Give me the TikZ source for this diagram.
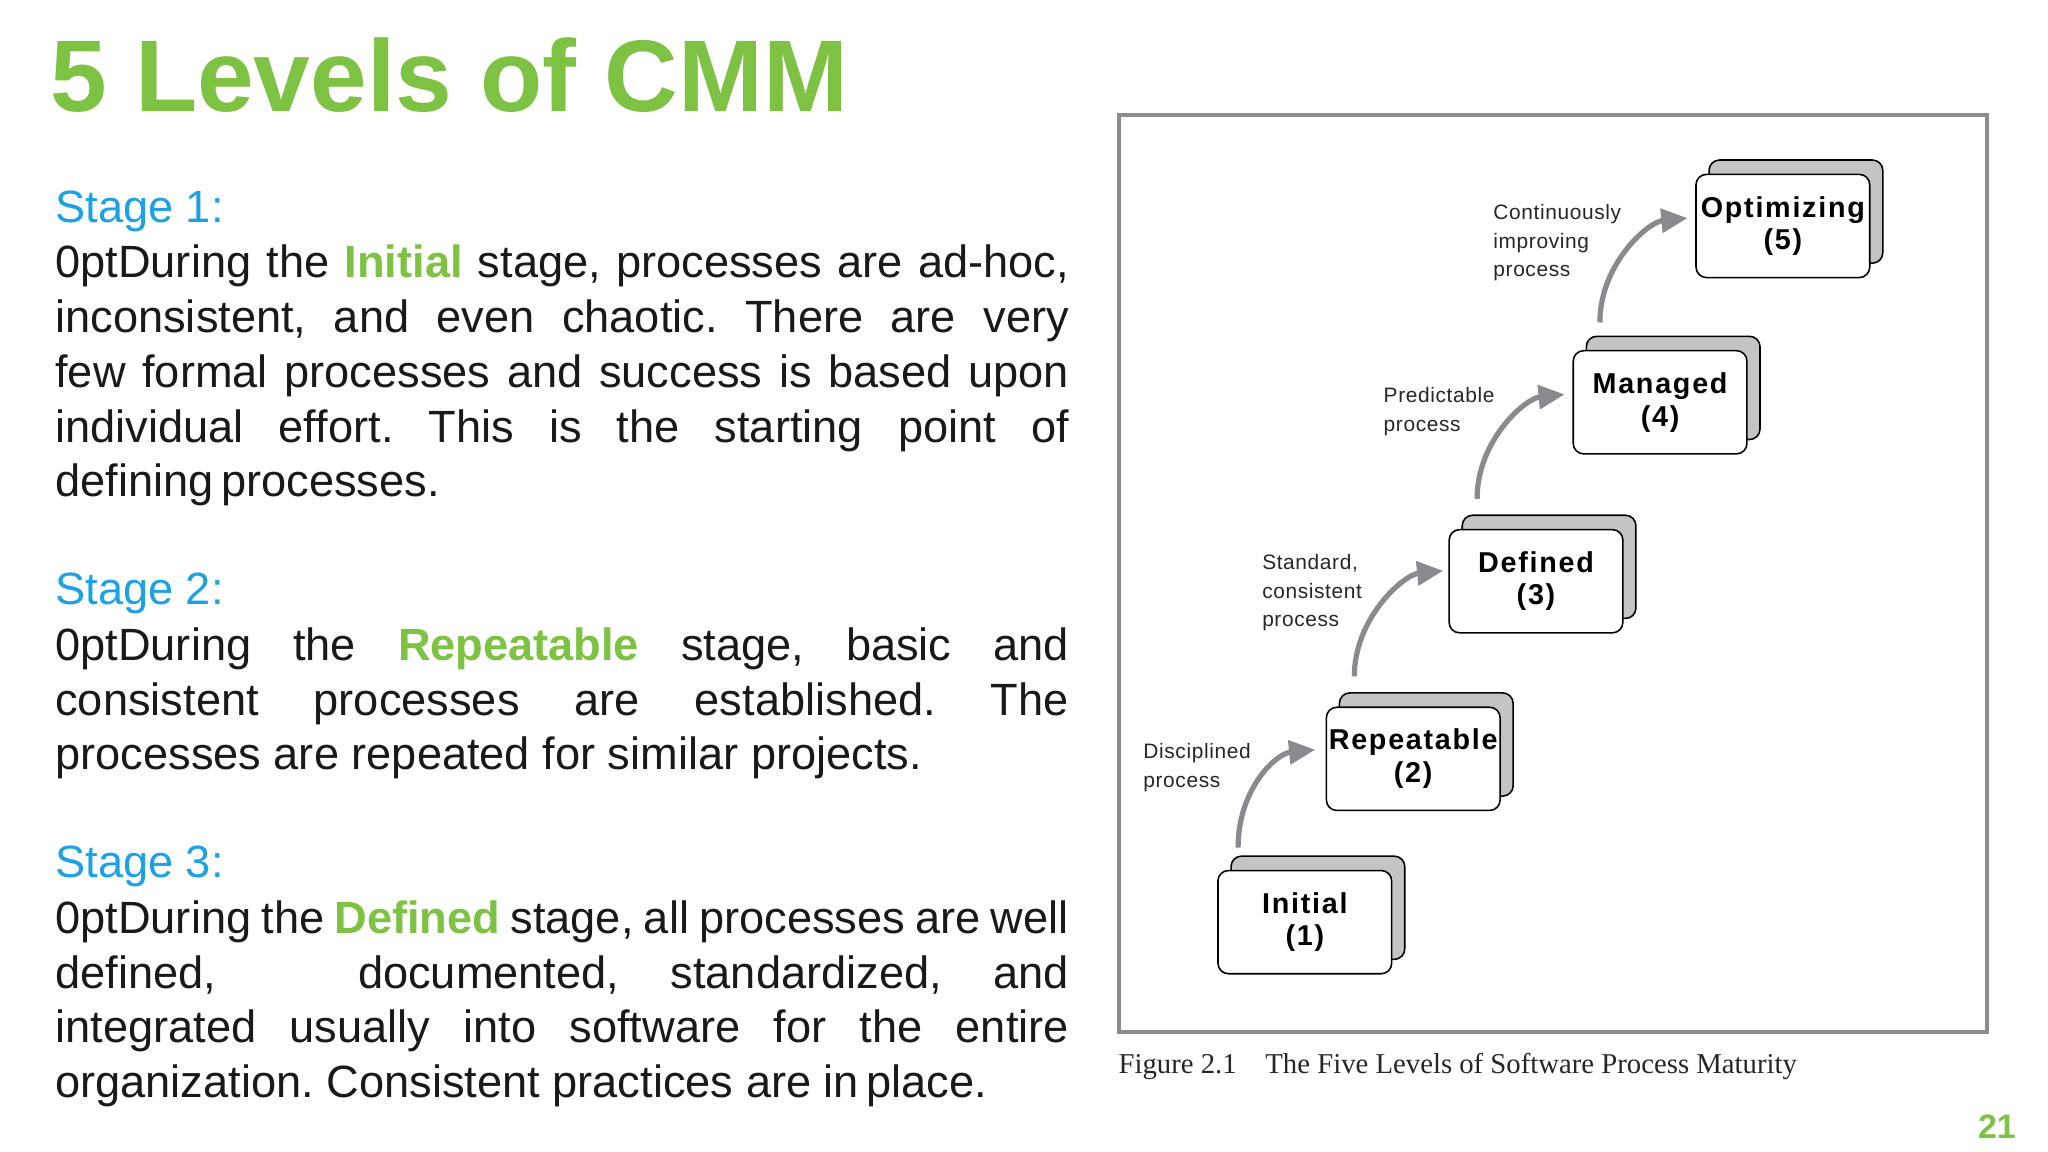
\documentclass[tikz,border=0pt]{standalone}
\usepackage{fontspec}
\setmainfont{Liberation Sans}
\newfontfamily\capfont{Liberation Serif}
\usetikzlibrary{arrows.meta,calc}
\definecolor{cmmgreen}{HTML}{7DC242}
\definecolor{cmmblue}{HTML}{1DA1E6}
\definecolor{arrgray}{HTML}{8A8A8E}
\definecolor{backgray}{HTML}{C4C4C6}
\definecolor{framegray}{HTML}{8C8C90}
\begin{document}
\begin{tikzpicture}[x=0.5pt,y=-0.5pt,
  stage/.style={anchor=base west,inner sep=0,text=cmmblue,font=\fontsize{17.3}{21}\selectfont},
  para/.style={anchor=north west,inner sep=0,text width=388pt,align=justify,text=black!90,font=\fontsize{17.3}{21}\selectfont\frenchspacing\hyphenpenalty=10000\exhyphenpenalty=10000},
  front/.style={draw=black,fill=white,rounded corners=4pt,line width=0.6pt,minimum width=66.5pt,minimum height=39.5pt,inner sep=0,align=center,font=\fontsize{11}{12.5}\selectfont\bfseries\addfontfeature{LetterSpace=6}},
  back/.style={draw=black,fill=backgray,rounded corners=4pt,line width=0.6pt,minimum width=66.5pt,minimum height=39.5pt,inner sep=0},
  lbl/.style={anchor=north west,inner sep=0,align=left,font=\fontsize{8}{11}\selectfont\addfontfeature{LetterSpace=3},text=black!85},
  up/.style={draw=arrgray,line width=2pt,-{Triangle[length=10pt,width=9pt]}}]
\useasboundingbox (0,0) rectangle (1568,882);
\clip (0,0) rectangle (1568,882);
\fill[white] (0,0) rectangle (1568,882);
\node[anchor=base west,inner sep=0,text=cmmgreen,font=\fontsize{39}{40}\selectfont\bfseries] (title) at (38,85) {5 Levels of CMM};
\node[stage] (s1) at (42,170) {Stage 1:};
\node[para] (p1) at (42,187) {During the \textcolor{cmmgreen}{\bfseries Initial} stage, processes are ad-hoc,\linebreak inconsistent, and even chaotic. There are very\linebreak few formal processes and success is based upon\linebreak individual effort. This is the starting point of\linebreak defining\,processes.};
\node[stage] (s2) at (42,463) {Stage 2:};
\node[para] (p2) at (42,480) {During the \textcolor{cmmgreen}{\bfseries Repeatable} stage, basic and\linebreak consistent processes are established. The\linebreak processes are repeated for similar projects.};
\node[stage] (s3) at (42,672) {Stage 3:};
\node[para] (p3) at (42,689) {During the \textcolor{cmmgreen}{\bfseries Defined} stage, all processes are well\linebreak defined,\hspace{2em} documented, standardized, and\linebreak integrated usually into software for the entire\linebreak organization. Consistent practices are in\,place.};
% figure frame
\draw[framegray,line width=1.6pt] (857,88) rectangle (1521,790);
\node[anchor=base west,inner sep=0,text=black!85,font=\capfont\fontsize{11}{12}\selectfont] (cap) at (856,822) {Figure 2.1\quad The Five Levels of Software Process Maturity};
% boxes
\foreach \n/\x/\y/\t in {b1/999/706/{Initial\\(1)},b2/1082/581/{Repeatable\\(2)},b3/1176/445/{Defined\\(3)},b4/1271/308/{Managed\\(4)},b5/1365/173/{Optimizing\\(5)}}{
  \node[back] (\n bk) at (\x+10,\y-11) {};
  \node[front] (\n) at (\x,\y) {\t};
}
% labels
\node[lbl] (l1) at (875,569) {Disciplined\\process};
\node[lbl] (l2) at (966,424) {Standard,\\consistent\\process};
\node[lbl] (l3) at (1059,296) {Predictable\\process};
\node[lbl] (l4) at (1143,156) {Continuously\\improving\\process};
% arrows
\coordinate (a1) at ($(b1.north west)+(16,-17)$);
\coordinate (e1) at ($(b2.west)+(-8,-7)$);
\draw[up] (a1) .. controls +(0,-45) and +(-30,3) .. (e1);
\coordinate (a2) at ($(b2.north west)+(22,-23)$);
\coordinate (e2) at ($(b3.west)+(-4,-8)$);
\draw[up] (a2) .. controls +(0,-45) and +(-30,3) .. (e2);
\coordinate (a3) at ($(b3.north west)+(22,-23)$);
\coordinate (e3) at ($(b4.west)+(-6,-6)$);
\draw[up] (a3) .. controls +(0,-45) and +(-30,3) .. (e3);
\coordinate (a4) at ($(b4.north west)+(21,-21)$);
\coordinate (e4) at ($(b5.west)+(-6,-6)$);
\draw[up] (a4) .. controls +(0,-45) and +(-30,3) .. (e4);
\node[anchor=base west,inner sep=0,text=cmmgreen,font=\fontsize{13}{14}\selectfont\bfseries] (pg) at (1514,872) {21};
\end{tikzpicture}
\end{document}
